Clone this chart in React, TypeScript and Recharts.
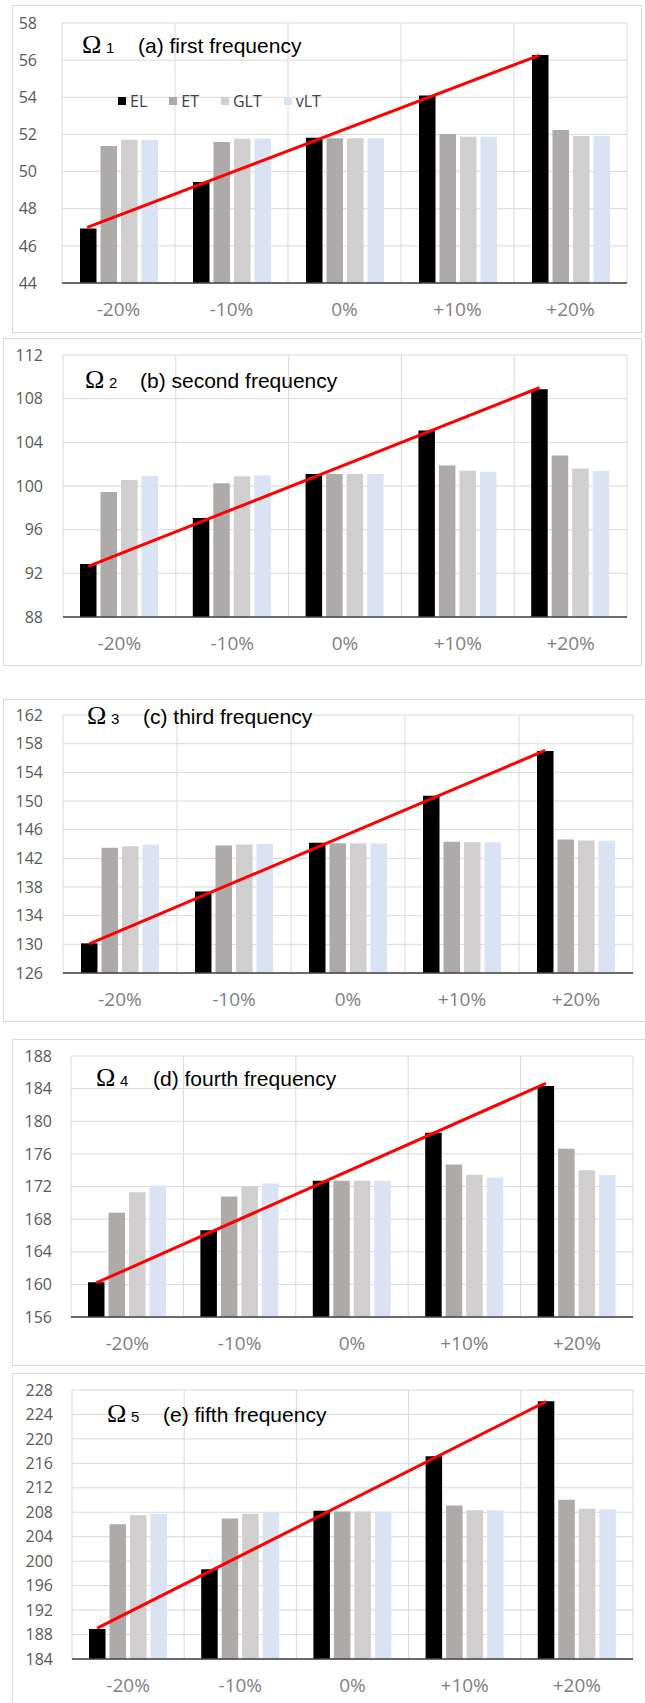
import {
  ComposedChart,
  Bar,
  Line,
  XAxis,
  YAxis,
  CartesianGrid,
  Legend,
} from "recharts";

const categories = ["-20%", "-10%", "0%", "+10%", "+20%"];
const seriesNames = ["EL", "ET", "GLT", "vLT"];
const seriesColors = ["#000000", "#aeaaaa", "#d0cece", "#dae3f3"];

// (a) first frequency
const elA = [46.94, 49.44, 51.82, 54.1, 56.28];
const etA = [51.38, 51.59, 51.8, 52.02, 52.24];
const gltA = [51.72, 51.77, 51.8, 51.88, 51.91];
const vltA = [51.72, 51.77, 51.8, 51.88, 51.91];
const trendA = [47.0, 56.26];
const ticksA = [44, 46, 48, 50, 52, 54, 56, 58];

// (b) second frequency
const elB = [92.85, 97.06, 101.11, 105.08, 108.86];
const etB = [99.44, 100.26, 101.1, 101.88, 102.79];
const gltB = [100.56, 100.9, 101.1, 101.39, 101.6];
const vltB = [100.93, 100.99, 101.1, 101.3, 101.39];
const trendB = [92.63, 109.0];
const ticksB = [88, 92, 96, 100, 104, 108, 112];

// (c) third frequency
const elC = [130.14, 137.36, 144.16, 150.73, 156.97];
const etC = [143.46, 143.79, 144.1, 144.3, 144.63];
const gltC = [143.7, 143.93, 144.1, 144.25, 144.49];
const vltC = [143.88, 144.02, 144.1, 144.25, 144.44];
const trendC = [130.05, 157.06];
const ticksC = [126, 130, 134, 138, 142, 146, 150, 154, 158, 162];

// (d) fourth frequency
const elD = [160.26, 166.64, 172.7, 178.59, 184.32];
const etD = [168.77, 170.77, 172.7, 174.7, 176.63];
const gltD = [171.31, 172.0, 172.7, 173.43, 174.0];
const vltD = [172.12, 172.37, 172.7, 173.1, 173.4];
const trendD = [160.18, 184.65];
const ticksD = [156, 160, 164, 168, 172, 176, 180, 184, 188];

// (e) fifth frequency
const elE = [188.9, 198.7, 208.23, 217.16, 226.15];
const etE = [206.05, 206.98, 208.12, 209.1, 210.03];
const gltE = [207.52, 207.74, 208.12, 208.34, 208.56];
const vltE = [207.74, 207.9, 208.12, 208.34, 208.5];
const trendE = [189.06, 226.1];
const ticksE = [184, 188, 192, 196, 200, 204, 208, 212, 216, 220, 224, 228];

const BAR_SIZE = 16.5;
const BAR_GAP = 4;

interface PanelLayout {
  frame: { x: number; y: number; w: number; h: number };
  chartW: number;
  chartH: number;
  margin: { top: number; right: number; bottom: number; left: number };
  yWidth: number;
  yGap: number;
  omegaX: number;
  subX: number;
  textX: number;
  baseline: number;
}

const layouts: PanelLayout[] = [
  {
    frame: { x: 12, y: 5, w: 630, h: 328 },
    chartW: 628, chartH: 326,
    margin: { top: 17, right: 14, bottom: 13, left: 0 },
    yWidth: 49, yGap: 25,
    omegaX: 82, subX: 106, textX: 138, baseline: 53,
  },
  {
    frame: { x: 3, y: 338, w: 639, h: 328 },
    chartW: 637, chartH: 326,
    margin: { top: 16, right: 14, bottom: 12, left: 0 },
    yWidth: 59, yGap: 20,
    omegaX: 85, subX: 109, textX: 140, baseline: 388,
  },
  {
    frame: { x: 3, y: 699, w: 660, h: 323 },
    chartW: 641, chartH: 321,
    margin: { top: 15, right: 12, bottom: 12, left: 0 },
    yWidth: 59, yGap: 20,
    omegaX: 87, subX: 111, textX: 143, baseline: 724,
  },
  {
    frame: { x: 12, y: 1039, w: 660, h: 327 },
    chartW: 632, chartH: 325,
    margin: { top: 16, right: 12, bottom: 12, left: 0 },
    yWidth: 58, yGap: 19,
    omegaX: 96, subX: 120, textX: 153, baseline: 1086,
  },
  {
    frame: { x: 12, y: 1373, w: 660, h: 345 },
    chartW: 632, chartH: 329,
    margin: { top: 16, right: 12, bottom: 8, left: 0 },
    yWidth: 59, yGap: 19,
    omegaX: 107, subX: 131, textX: 163, baseline: 1422,
  },
];

const panels = [
  { label: "(a) first frequency", el: elA, et: etA, glt: gltA, vlt: vltA, trend: trendA, ticks: ticksA },
  { label: "(b) second frequency", el: elB, et: etB, glt: gltB, vlt: vltB, trend: trendB, ticks: ticksB },
  { label: "(c) third frequency", el: elC, et: etC, glt: gltC, vlt: vltC, trend: trendC, ticks: ticksC },
  { label: "(d) fourth frequency", el: elD, et: etD, glt: gltD, vlt: vltD, trend: trendD, ticks: ticksD },
  { label: "(e) fifth frequency", el: elE, et: etE, glt: gltE, vlt: vltE, trend: trendE, ticks: ticksE },
];

function LegendRow({ payload }: any) {
  const items = (payload || []).filter((p: any) => p.type !== "none");
  return (
    <div style={{ display: "flex", alignItems: "center", fontFamily: "Open Sans", fontSize: 16, color: "#404040" }}>
      {items.map((p: any) => (
        <div key={p.value} style={{ display: "flex", alignItems: "center", marginRight: 22 }}>
          <span style={{ width: 8, height: 8, background: p.color, marginRight: 4, display: "inline-block" }} />
          <span>{p.value}</span>
        </div>
      ))}
    </div>
  );
}

function FreqPanel({ idx }: { idx: number }) {
  const lay = layouts[idx];
  const p = panels[idx];
  const values = [p.el, p.et, p.glt, p.vlt];

  // centre of the EL bar inside each band, in band units, so the trend runs bar-top to bar-top
  const plotW = lay.chartW - lay.margin.left - lay.margin.right - lay.yWidth;
  const band = plotW / categories.length;
  const group = seriesNames.length * BAR_SIZE + (seriesNames.length - 1) * BAR_GAP;
  const elCentre = (Math.floor((band - group) / 2) + BAR_SIZE / 2) / band;

  const last = categories.length - 1;
  const rows = categories.map((cat, i) => {
    const row: Record<string, any> = { cat, pos: i + elCentre };
    seriesNames.forEach((name, s) => {
      row[name] = values[s][i];
    });
    row.trend = i === 0 ? p.trend[0] : i === last ? p.trend[1] : null;
    return row;
  });
  const bounds = categories.map((_, i) => i).concat(categories.length);

  return (
    <div
      style={{
        position: "absolute",
        left: lay.frame.x,
        top: lay.frame.y,
        width: lay.frame.w,
        height: lay.frame.h,
        border: "1px solid #d9d9d9",
        boxSizing: "border-box",
      }}
    >
      <div style={{ position: "absolute", left: 0, top: 0 }}>
        <ComposedChart
          width={lay.chartW}
          height={lay.chartH}
          data={rows}
          margin={lay.margin}
          barGap={BAR_GAP}
        >
          <CartesianGrid xAxisId="pos" stroke="#d9d9d9" strokeWidth={1} />
          <XAxis
            dataKey="cat"
            interval={0}
            tickSize={0}
            tickMargin={20}
            height={36}
            tickLine={false}
            axisLine={{ stroke: "#404040", strokeWidth: 1.5 }}
            tick={{ fontSize: 19, fill: "#7f7f7f", fontFamily: "Open Sans" }}
          />
          <XAxis
            xAxisId="pos"
            type="number"
            dataKey="pos"
            domain={[0, categories.length]}
            ticks={bounds}
            hide
          />
          <YAxis
            width={lay.yWidth}
            domain={[p.ticks[0], p.ticks[p.ticks.length - 1]]}
            ticks={p.ticks}
            interval={0}
            tickSize={0}
            tickMargin={lay.yGap}
            axisLine={false}
            tickLine={false}
            tick={{ fontSize: 16, fill: "#595959", fontFamily: "Open Sans" }}
          />
          {seriesNames.map((name, s) => (
            <Bar
              key={name}
              dataKey={name}
              name={name}
              fill={seriesColors[s]}
              barSize={BAR_SIZE}
              isAnimationActive={false}
            />
          ))}
          <Line
            xAxisId="pos"
            dataKey="trend"
            stroke="#ff0000"
            strokeWidth={3}
            dot={false}
            connectNulls
            legendType="none"
            isAnimationActive={false}
          />
          {idx === 0 && (
            <Legend
              layout="horizontal"
              verticalAlign="middle"
              align="center"
              content={<LegendRow />}
              wrapperStyle={{ left: 105, top: 84, width: "auto" }}
            />
          )}
        </ComposedChart>
      </div>
    </div>
  );
}

export default function App() {
  return (
    <div
      style={{
        position: "absolute",
        left: 0,
        top: 0,
        width: 645,
        height: 1703,
        overflow: "hidden",
        background: "#ffffff",
      }}
    >
      {panels.map((_, i) => (
        <FreqPanel key={i} idx={i} />
      ))}
      <svg
        width={645}
        height={1703}
        style={{ position: "absolute", left: 0, top: 0, pointerEvents: "none" }}
      >
        {panels.map((p, i) => {
          const lay = layouts[i];
          return (
            <g key={i} fill="#000">
              <text x={lay.omegaX} y={lay.baseline} fontFamily="Liberation Serif" fontSize={26}>
                Ω
              </text>
              <text x={lay.subX} y={lay.baseline} fontFamily="Liberation Sans" fontSize={15}>
                {i + 1}
              </text>
              <text x={lay.textX} y={lay.baseline} fontFamily="Liberation Sans" fontSize={21}>
                {p.label}
              </text>
            </g>
          );
        })}
      </svg>
    </div>
  );
}
